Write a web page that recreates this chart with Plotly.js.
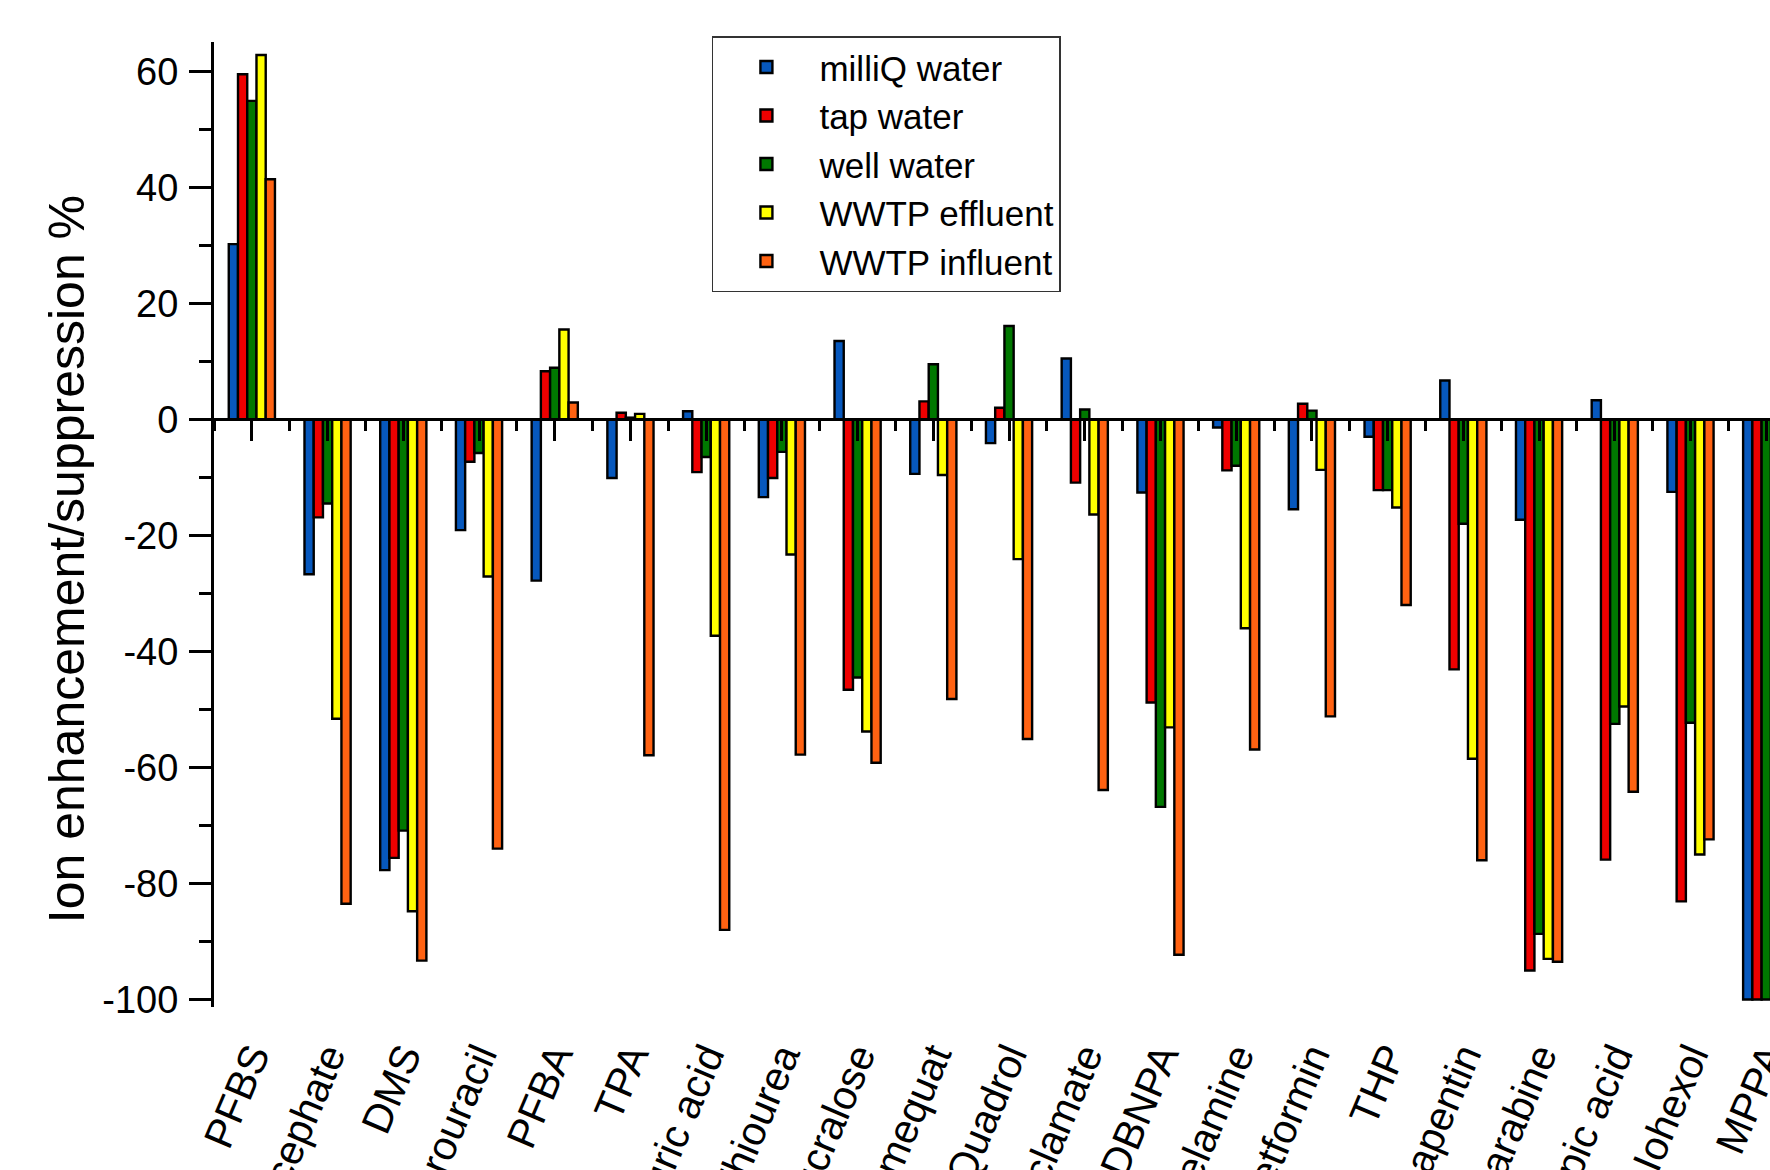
<!DOCTYPE html>
<html>
<head>
<meta charset="utf-8">
<script src="https://cdn.plot.ly/plotly-3.0.1.min.js"></script>
<style>
  html, body { margin: 0; padding: 0; background: #ffffff; }
  #chart { width: 1770px; height: 1170px; }
</style>
</head>
<body>
<div id="chart"></div>
<script>
// ---------- data ----------
const categories = ['PFBS', 'Acephate', 'DMS', '5-Fluorouracil', 'PFBA', 'TPA', 'Cyanuric acid',
  'Thiourea', 'Sucralose', 'Chlormequat', 'Quadrol', 'Cyclamate', 'DBNPA', 'Melamine',
  'Metformin', 'THP', 'Gabapentin', 'Cytarabine', 'Adipic acid', 'Iohexol', 'MPPA'];

const seriesNames = ['milliQ water', 'tap water', 'well water', 'WWTP effluent', 'WWTP influent'];

const milliQWater   = [30.2, -26.7, -77.7, -19.1, -27.8, -10.1, 1.4, -13.4, 13.5, -9.4, -4.1, 10.5, -12.6, -1.4, -15.5, -3.0, 6.7, -17.3, 3.3, -12.5, -100];
const tapWater      = [59.5, -16.9, -75.6, -7.3, 8.3, 1.15, -9.1, -10.1, -46.6, 3.1, 2.0, -10.9, -48.8, -8.8, 2.7, -12.2, -43.1, -95.0, -75.9, -83.1, -100];
const wellWater     = [54.9, -14.5, -70.9, -5.8, 8.9, 0.3, -6.5, -5.6, -44.5, 9.5, 16.1, 1.7, -66.8, -8.0, 1.5, -12.2, -18.0, -88.7, -52.5, -52.3, -100];
const wwtpEffluent  = [62.8, -51.6, -84.8, -27.1, 15.5, 0.95, -37.3, -23.3, -53.8, -9.6, -24.1, -16.4, -53.1, -36.0, -8.7, -15.2, -58.5, -93.0, -49.5, -75.0, null];
const wwtpInfluent  = [41.4, -83.5, -93.3, -74.0, 2.9, -57.9, -88.0, -57.8, -59.2, -48.2, -55.1, -63.9, -92.3, -56.9, -51.2, -32.0, -76.0, -93.5, -64.2, -72.4, null];

const yTickVals = [-100, -80, -60, -40, -20, 0, 20, 40, 60];
const yTickText = ['-100', '-80', '-60', '-40', '-20', '0', '20', '40', '60'];

const yTitle = 'Ion enhancement/suppression %';

// ---------- style ----------
const seriesValues = [milliQWater, tapWater, wellWater, wwtpEffluent, wwtpInfluent];
const seriesColors = ['#0758bd', '#ee0000', '#007800', '#ffff00', '#ff6212'];
const FONT = 'Liberation Sans, Arial, Helvetica, sans-serif';

const yRange = [-101.3, 65.05];
const xRange = [-0.5, 20.05];
const zeroPos = (0 - yRange[0]) / (yRange[1] - yRange[0]);

const traces = seriesNames.map((name, i) => ({
  type: 'bar',
  name: name,
  x: categories,
  y: seriesValues[i],
  marker: { color: seriesColors[i], line: { color: '#000000', width: 2.4 } },
  cliponaxis: true
}));

// helper (empty) trace so that the zero-crossing x axis is drawn
traces.push({
  type: 'scatter', mode: 'markers', x: [], y: [],
  xaxis: 'x2', yaxis: 'y', showlegend: false, hoverinfo: 'skip'
});

const layout = {
  width: 1770,
  height: 1170,
  margin: { l: 214, r: 0, t: 42, b: 163 },
  paper_bgcolor: '#ffffff',
  plot_bgcolor: '#ffffff',
  font: { family: FONT, color: '#000000' },
  barmode: 'group',
  bargap: 0.39,
  bargroupgap: 0,
  showlegend: true,
  legend: {
    x: 0.32, y: 1.006, xanchor: 'left', yanchor: 'top',
    bgcolor: '#ffffff', bordercolor: '#333333', borderwidth: 1.5,
    font: { family: FONT, size: 35, color: '#000000' },
    itemwidth: 96,
    tracegroupgap: 0
  },
  xaxis: {
    type: 'category',
    range: xRange,
    showline: false,
    ticks: '',
    showgrid: false,
    zeroline: false,
    tickangle: -67,
    ticklabelstandoff: 16,
    tickfont: { family: FONT, size: 41, color: '#000000' },
    automargin: false
  },
  xaxis2: {
    overlaying: 'x',
    anchor: 'free',
    position: zeroPos,
    type: 'linear',
    range: xRange,
    tickmode: 'linear',
    tick0: 0,
    dtick: 1,
    ticks: 'outside',
    ticklen: 20,
    tickwidth: 3,
    tickcolor: '#000000',
    showticklabels: false,
    showline: true,
    linewidth: 3,
    linecolor: '#000000',
    showgrid: false,
    zeroline: false,
    layer: 'above traces',
    minor: { ticks: 'outside', tick0: 0.5, dtick: 1, ticklen: 10, tickwidth: 3, tickcolor: '#000000', showgrid: false },
    automargin: false
  },
  yaxis: {
    range: yRange,
    tickmode: 'array',
    tickvals: yTickVals,
    ticktext: yTickText,
    ticks: 'outside',
    ticklen: 22,
    tickwidth: 3,
    tickcolor: '#000000',
    ticklabelstandoff: 3,
    showline: true,
    linewidth: 3,
    linecolor: '#000000',
    showgrid: false,
    zeroline: false,
    tickfont: { family: FONT, size: 38, color: '#000000' },
    minor: { ticks: 'outside', tickmode: 'linear', tick0: -100, dtick: 10, ticklen: 12, tickwidth: 3, tickcolor: '#000000', showgrid: false },
    automargin: false
  },
  // y-axis title, placed as a rotated annotation so it can sit slightly below the axis centre as in the reference
  annotations: [{
    text: yTitle,
    xref: 'paper', yref: 'paper',
    x: -0.0945, y: 0.464,
    xanchor: 'center', yanchor: 'middle',
    textangle: -90,
    showarrow: false,
    font: { family: FONT, size: 50, color: '#000000' }
  }]
};

Plotly.newPlot('chart', traces, layout, { displayModeBar: false, staticPlot: true });
</script>
</body>
</html>
